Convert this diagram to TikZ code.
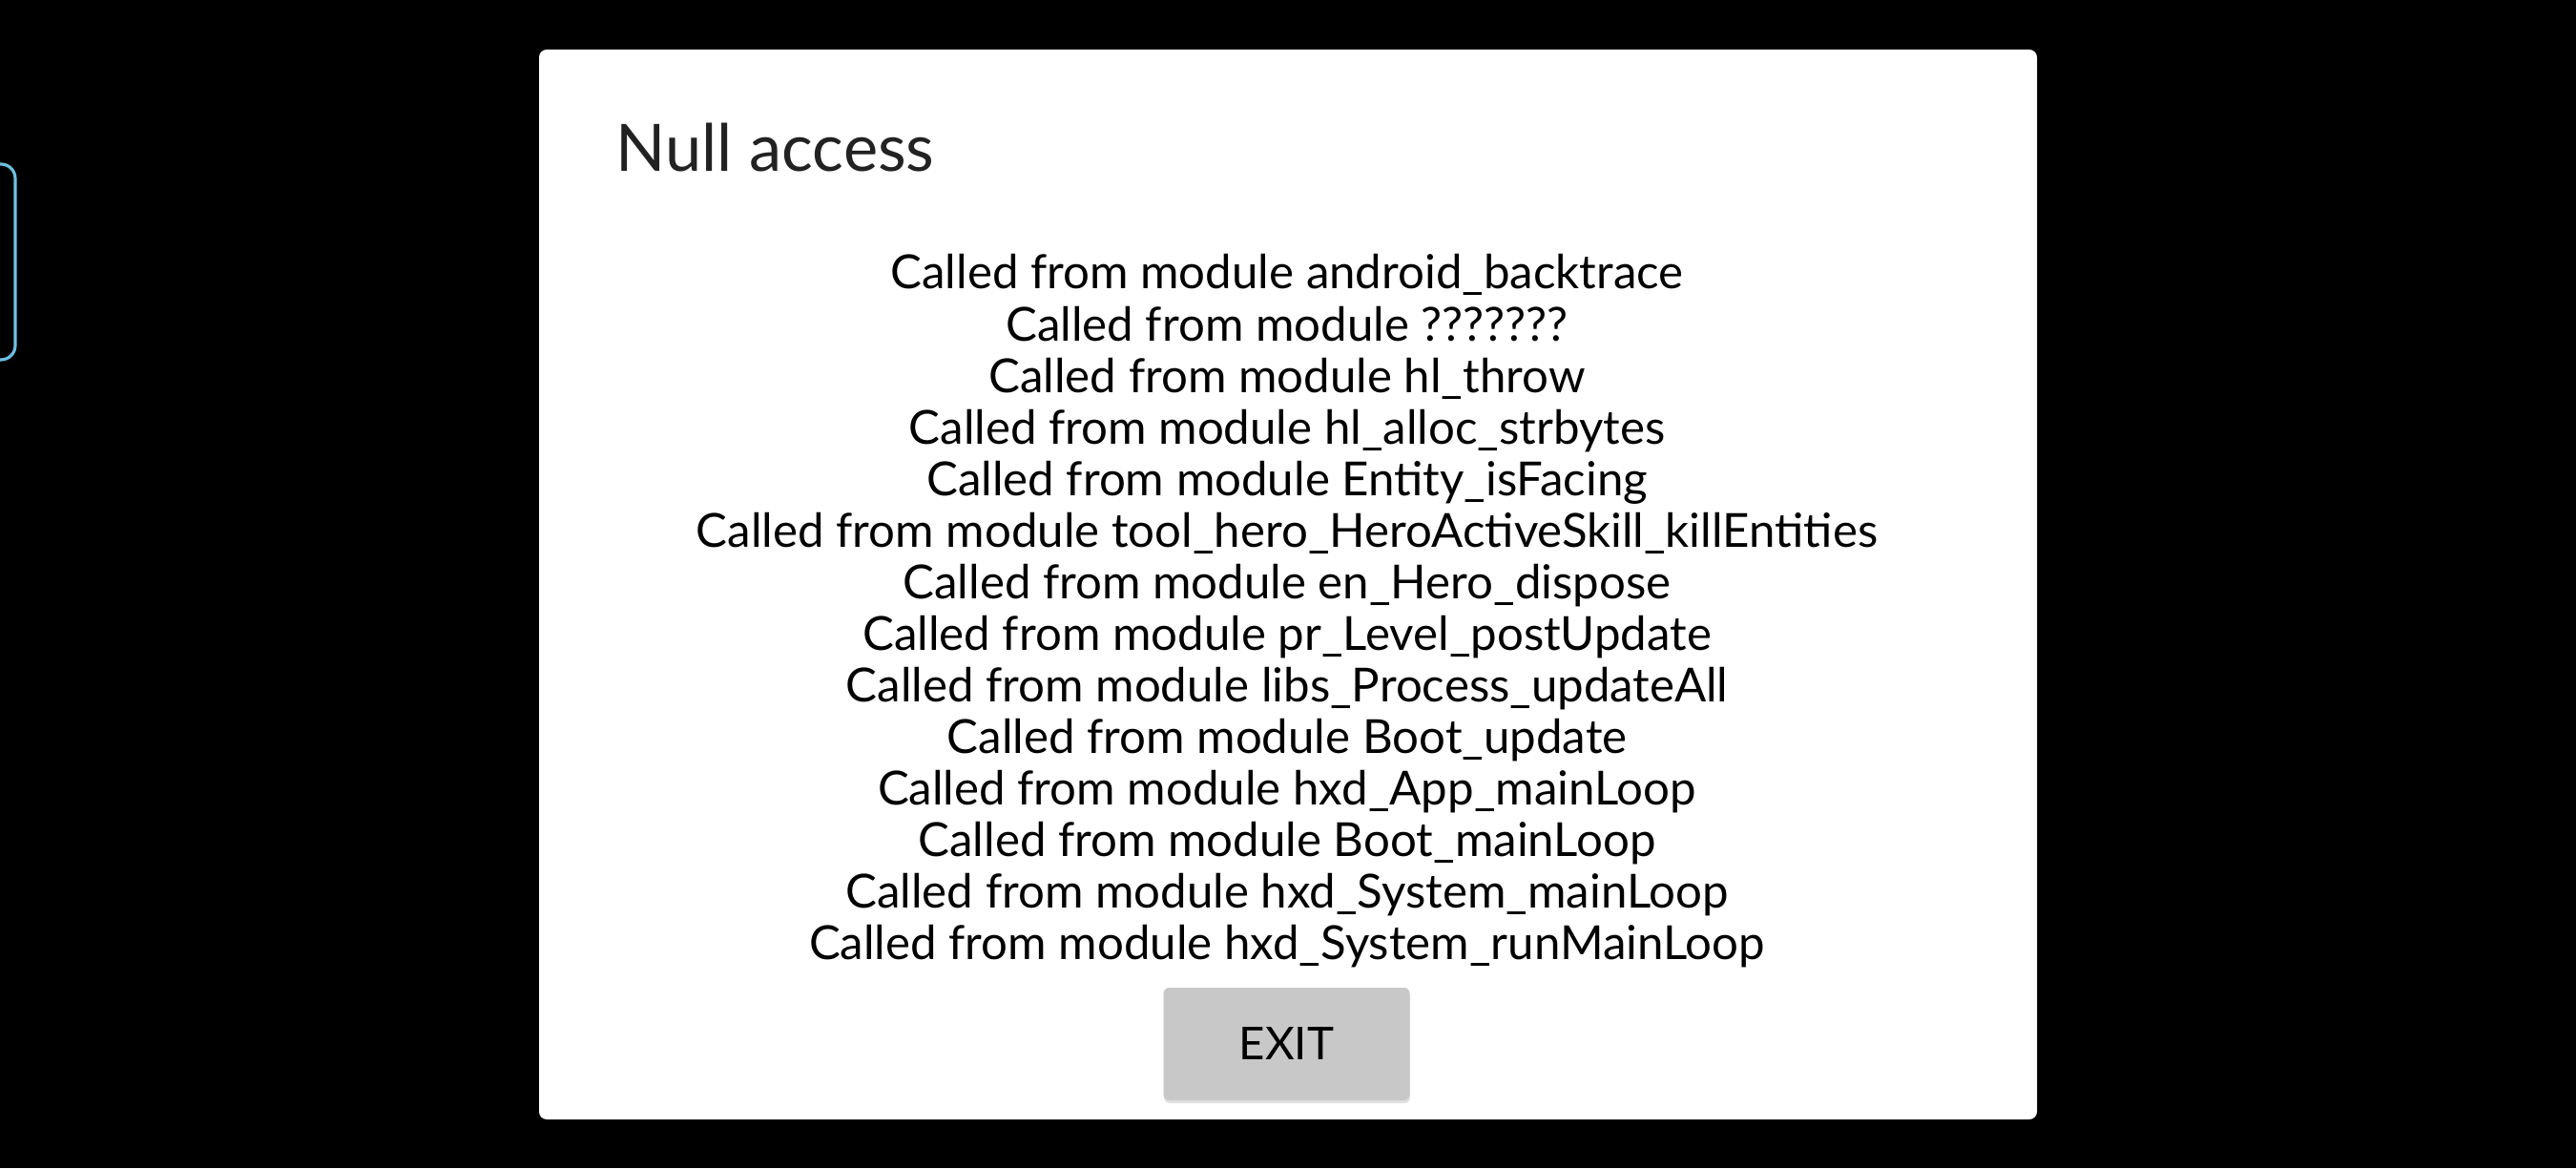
\documentclass[tikz,border=0pt]{standalone}
\usepackage{fontspec}
\setmainfont{Lato}
\definecolor{btngray}{HTML}{C8C8C8}
\definecolor{titlegray}{HTML}{222222}
\definecolor{tabblue}{HTML}{6CC0E0}
\begin{document}
\begin{tikzpicture}[
    traceline/.style={anchor=base, text=black, font=\fontsize{14}{16}\selectfont},
    exitbtn/.style={fill=btngray, rounded corners=0.06cm, minimum width=2.58cm, minimum height=1.18cm, font=\fontsize{13.5}{16}\selectfont}
    ]
    
    \def\screen{(0,0) rectangle (27,12.24)}
    \def\dialog{(5.65,0.51) rectangle (21.35,11.72)}
    \def\tab{(-0.3,8.47) rectangle (0.16,10.52)}

    %background:
    \fill[black] \screen;
    \useasboundingbox \screen;
    \draw[tabblue, line width=0.9pt, rounded corners=0.15cm] \tab;
    \fill[white, rounded corners=0.08cm] \dialog;

    %title:
    \node[anchor=base west, inner sep=0pt, text=titlegray, font=\fontsize{19.5}{22}\selectfont] (title) at (6.45,10.44) {Null access};

    %trace lines:
    \foreach \m [count=\i from 0] in {android\_backtrace, ???????, hl\_throw, hl\_alloc\_strbytes, Entity\_isFacing, tool\_hero\_HeroActiveSkill\_killEntities, en\_Hero\_dispose, pr\_Level\_postUpdate, libs\_Process\_updateAll, Boot\_update, hxd\_App\_mainLoop, Boot\_mainLoop, hxd\_System\_mainLoop, hxd\_System\_runMainLoop}
        \node[traceline] (t\i) at (13.49,9.21-0.5407*\i) {Called from module \m};

    %exit button:
    \fill[black!12, rounded corners=0.06cm] (12.20,0.68) rectangle (14.78,1.86);
    \node[exitbtn] (exit) at (13.485,1.30) {EXIT};
    
\end{tikzpicture}
\end{document}
